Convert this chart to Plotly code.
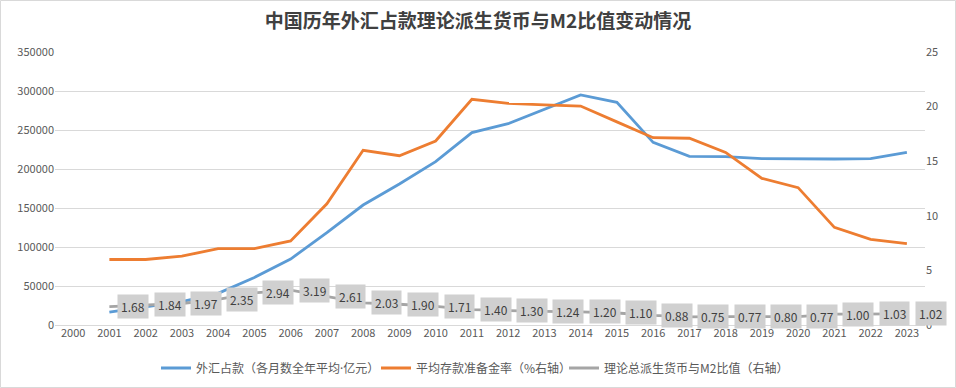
import plotly.graph_objects as go

years = [str(y) for y in range(2000, 2024)]
data_years = [str(y) for y in range(2001, 2024)]

fx_holdings = [16500, 23500, 30000, 40600, 61000, 84600, 118300, 153800, 180800, 209400,
               246600, 258100, 276500, 294900, 285500, 234200, 216300, 215800, 213200,
               212800, 212800, 213200, 221400]
reserve_ratio = [6.0, 6.0, 6.3, 7.0, 7.0, 7.7, 11.1, 16.0, 15.5, 16.85, 20.67, 20.3, 20.15,
                 20.05, 18.6, 17.15, 17.1, 15.8, 13.43, 12.58, 8.94, 7.85, 7.45]
money_m2_ratio = [1.68, 1.84, 1.97, 2.35, 2.94, 3.19, 2.61, 2.03, 1.90, 1.71, 1.40, 1.30,
                  1.24, 1.20, 1.10, 0.88, 0.75, 0.77, 0.80, 0.77, 1.00, 1.03, 1.02]

name_fx = "外汇占款（各月数全年平均<span style=\"font-family:Noto Sans\">·</span>亿元）"
name_rr = "平均存款准备金率（%右轴）"
name_ratio = "理论总派生货币与M2比值（右轴）"
title_text = "中国历年外汇占款理论派生货币与M2比值变动情况"

W, H = 956, 388
ML, MR, MT, MB = 55, 31, 52, 63
PW, PH = W - ML - MR, H - MT - MB

FONT = "Noto Sans CJK SC, Noto Sans, sans-serif"
TXT = "#595959"

fig = go.Figure()
fig.add_trace(go.Scatter(x=data_years, y=fx_holdings, name=name_fx, mode="lines",
                         line=dict(color="#5b9bd5", width=2.8), yaxis="y", legend="legend",
                         showlegend=True))
fig.add_trace(go.Scatter(x=data_years, y=reserve_ratio, name=name_rr, mode="lines",
                         line=dict(color="#ed7d31", width=2.8), yaxis="y2", legend="legend2",
                         showlegend=True))
fig.add_trace(go.Scatter(x=data_years, y=money_m2_ratio, name=name_ratio, mode="lines",
                         line=dict(color="#a5a5a5", width=2.8), yaxis="y2", legend="legend3",
                         showlegend=True))

annotations = []
for yr, v in zip(data_years, money_m2_ratio):
    annotations.append(dict(x=years.index(yr), y=v, xref="x", yref="y2", text=f"{v:.2f}",
                            showarrow=False, xanchor="left", yanchor="middle", xshift=8,
                            bgcolor="#d0d0d0", borderpad=3,
                            font=dict(family=FONT, size=12, color="#404040")))


def legend_at(px):
    return dict(orientation="h", x=px / W, xref="container", xanchor="left",
                y=(H - 368) / H, yref="container", yanchor="middle",
                font=dict(family=FONT, size=12, color=TXT), itemwidth=30,
                bgcolor="rgba(0,0,0,0)")


fig.update_layout(
    width=W, height=H,
    showlegend=True,
    margin=dict(l=ML, r=MR, t=MT, b=MB),
    paper_bgcolor="white", plot_bgcolor="white",
    font=dict(family=FONT, size=11, color=TXT),
    title=dict(text=f"<b>{title_text}</b>", x=0.5, xref="container", xanchor="center",
               y=1 - 21 / H, yref="container", yanchor="middle",
               font=dict(family=FONT, size=19, color="#404040")),
    xaxis=dict(type="category", categoryorder="array", categoryarray=years,
               range=[-0.5, len(years) - 0.5], showgrid=False,
               showline=False, ticks="", tickfont=dict(size=11, color=TXT)),
    yaxis=dict(range=[0, 350000], dtick=50000, showgrid=True, gridcolor="#d9d9d9",
               gridwidth=1, zeroline=True, zerolinecolor="#d9d9d9", zerolinewidth=1,
               ticks="", tickformat="d", tickfont=dict(size=11, color=TXT)),
    yaxis2=dict(range=[0, 25], dtick=5, overlaying="y", side="right", showgrid=False,
                zeroline=False, ticks="", tickfont=dict(size=11, color=TXT)),
    legend=legend_at(156),
    legend2=legend_at(376),
    legend3=legend_at(564),
    annotations=annotations,
    shapes=[dict(type="rect", xref="paper", yref="paper", layer="below",
                 x0=(0.5 - ML) / PW, x1=(W - 0.5 - ML) / PW,
                 y0=-(MB - 0.5) / PH, y1=1 + (MT - 0.5) / PH,
                 line=dict(color="#d9d9d9", width=1))],
    hovermode=False,
)

fig.write_html("out.html", config={"displayModeBar": False},
               post_script="document.body.style.margin='0';document.body.style.overflow='hidden';")
